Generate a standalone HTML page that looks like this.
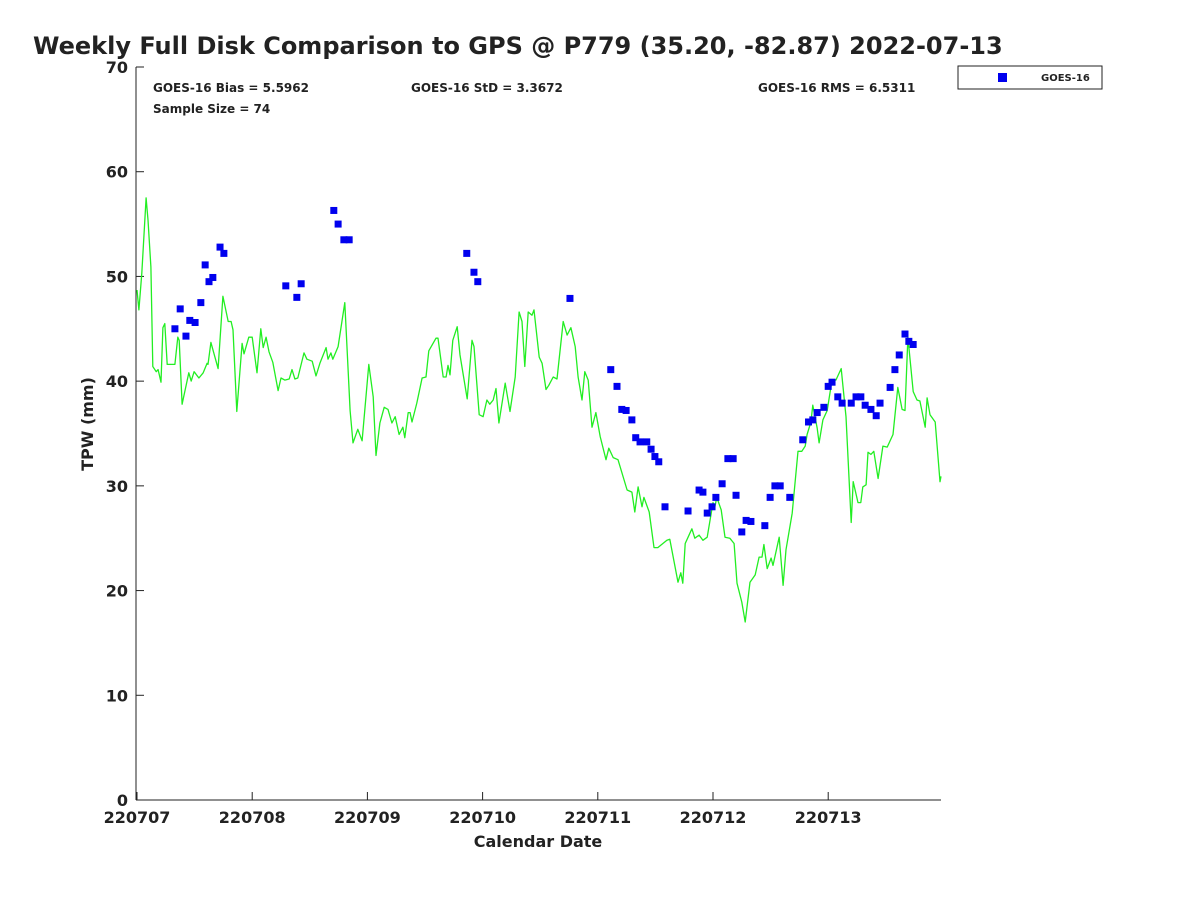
<!DOCTYPE html>
<html><head><meta charset="utf-8"><style>
body{margin:0;background:#fff;font-family:"Liberation Sans","DejaVu Sans",sans-serif;}
svg text{font-family:"DejaVu Sans","Liberation Sans",sans-serif;font-weight:bold;fill:#222;}
</style></head><body>
<svg id="chart" width="1200" height="900" xmlns="http://www.w3.org/2000/svg">
<rect width="1200" height="900" fill="#fff"/>
<text x="33" y="54" font-size="24" fill="#000">Weekly Full Disk Comparison to GPS @ P779 (35.20, -82.87) 2022-07-13</text>
<text x="153" y="92" font-size="12">GOES-16 Bias = 5.5962</text>
<text x="411" y="92" font-size="12">GOES-16 StD = 3.3672</text>
<text x="758" y="92" font-size="12">GOES-16 RMS = 6.5311</text>
<text x="153" y="113" font-size="12">Sample Size = 74</text>
<g>
<rect x="958" y="66" width="144" height="23" fill="#fff" stroke="#222" stroke-width="1"/>
<rect x="998" y="73" width="9" height="9" fill="#0000ee"/>
<text x="1041" y="81" font-size="10">GOES-16</text>
</g>
<g id="axes"></g>
<g id="marks"></g>
<text x="538" y="847" font-size="16" text-anchor="middle">Calendar Date</text>
<text transform="translate(93,424) rotate(-90)" font-size="16" text-anchor="middle">TPW (mm)</text>
</svg>
<script>
const xTickLabels=["220707","220708","220709","220710","220711","220712","220713"];
const yTicks=[0,10,20,30,40,50,60,70];
const lineHours=[0,0.4,1.0,1.9,2.3,2.9,3.3,4.0,4.4,5.0,5.4,5.8,6.3,7.9,8.5,8.8,9.4,10.8,11.3,11.9,12.9,13.8,14.6,14.8,15.4,16.9,17.9,19.0,19.6,20.0,20.8,21.9,22.3,23.3,24.0,25.0,25.8,26.3,26.9,27.5,28.3,29.4,30.0,30.8,31.7,32.3,32.9,33.5,34.8,35.4,36.5,37.3,38.1,39.4,39.8,40.4,40.8,41.9,43.3,44.4,45.0,46.0,46.9,48.3,49.2,49.8,50.6,51.5,52.3,53.1,53.8,54.6,55.4,55.8,56.5,56.9,57.3,58.3,59.4,60.2,60.8,62.3,62.7,63.8,64.4,64.8,65.2,65.8,66.7,67.3,68.8,69.8,70.2,71.3,72.1,72.9,73.5,74.2,74.8,75.4,76.7,77.7,78.8,79.6,80.2,80.8,81.5,82.3,82.7,83.8,84.4,85.2,85.8,86.7,87.5,88.8,89.6,90.4,91.3,91.9,92.7,93.3,94.0,94.8,95.6,96.5,97.7,98.3,99.2,100.2,102.1,103.1,103.7,104.4,105.2,105.6,106.7,107.7,108.5,110.4,111.0,112.7,113.3,113.7,114.2,115.6,116.2,117.1,117.9,118.8,120.0,120.4,120.8,121.7,122.5,123.5,124.4,125.0,126.0,126.7,127.7,128.8,129.6,130.2,130.6,131.3,132.1,132.5,133.8,134.6,135.2,136.5,137.7,138.5,139.2,139.6,140.4,140.8,141.7,142.1,142.9,143.8,144.8,145.6,146.7,147.7,148.8,149.2,150.2,150.8,151.2,151.9,152.3,152.9,153.5,154.4,155.4,156.3,157.5,158.5,159.4,160.0,160.6,161.7,162.5,163.1,164.2,164.6,165.2,166.3,167.3,167.5];
const gpsTPW=[48.7,46.8,50.3,57.5,55.4,50.9,41.4,40.9,41.1,39.9,45.1,45.5,41.6,41.6,44.2,43.9,37.8,40.8,40.0,40.9,40.3,40.8,41.7,41.6,43.7,41.2,48.1,45.7,45.7,44.9,37.1,43.6,42.6,44.2,44.2,40.8,45.0,43.2,44.2,42.8,41.8,39.1,40.3,40.1,40.2,41.1,40.2,40.3,42.7,42.1,41.9,40.5,41.7,43.2,42.1,42.7,42.1,43.3,47.5,37.2,34.1,35.4,34.3,41.6,38.5,32.9,36.0,37.5,37.3,36.0,36.6,34.9,35.6,34.6,37.0,37.0,36.1,37.9,40.3,40.4,42.9,44.1,44.1,40.4,40.4,41.5,40.6,43.9,45.2,42.5,38.3,43.9,43.3,36.8,36.6,38.2,37.8,38.2,39.3,36.0,39.8,37.1,40.4,46.6,45.7,41.4,46.6,46.3,46.8,42.3,41.7,39.2,39.6,40.4,40.2,45.7,44.4,45.1,43.3,40.4,38.2,40.9,40.1,35.6,37.0,34.7,32.5,33.6,32.7,32.5,29.6,29.4,27.5,29.9,28.0,28.9,27.5,24.1,24.1,24.8,24.9,20.8,21.7,20.7,24.5,25.9,25.0,25.3,24.8,25.1,28.4,28.0,28.9,27.7,25.1,25.0,24.5,20.7,18.9,17.0,20.8,21.5,23.2,23.2,24.4,22.1,23.1,22.4,25.1,20.5,23.9,27.4,33.3,33.3,33.8,34.9,36.1,37.7,35.5,34.1,36.3,37.2,40.1,40.1,41.2,36.6,26.5,30.4,28.4,28.4,29.9,30.1,33.2,33.0,33.3,30.7,33.8,33.7,34.9,39.4,37.3,37.2,44.2,39.0,38.2,38.1,35.6,38.4,36.8,36.1,30.4,30.9];
const goesHours=[7.9,9.0,10.2,11.0,12.1,13.3,14.2,15.0,15.8,17.3,18.1,31.0,33.3,34.2,41.0,41.9,43.1,44.2,68.7,70.2,71.0,90.2,98.7,100.0,101.0,101.9,103.1,103.9,104.8,106.2,107.1,107.9,108.7,110.0,114.8,117.1,117.9,118.8,119.8,120.6,121.9,123.1,124.2,124.8,126.0,126.9,127.9,130.8,131.9,132.9,134.0,136.0,138.7,139.9,140.8,141.7,143.1,144.0,144.8,146.0,146.9,148.8,149.8,150.8,151.7,152.9,154.0,154.8,156.9,157.9,158.8,160.0,160.8,161.7];
const goesTPW=[45.0,46.9,44.3,45.8,45.6,47.5,51.1,49.5,49.9,52.8,52.2,49.1,48.0,49.3,56.3,55.0,53.5,53.5,52.2,50.4,49.5,47.9,41.1,39.5,37.3,37.2,36.3,34.6,34.2,34.2,33.5,32.8,32.3,28.0,27.6,29.6,29.4,27.4,28.0,28.9,30.2,32.6,32.6,29.1,25.6,26.7,26.6,26.2,28.9,30.0,30.0,28.9,34.4,36.1,36.3,37.0,37.5,39.5,39.9,38.5,37.9,37.9,38.5,38.5,37.7,37.3,36.7,37.9,39.4,41.1,42.5,44.5,43.8,43.5];

const X0=137,PXDAY=115.2,Y0=800,YTOP=67,YMAX=70;
const xs=h=>X0+h/24*PXDAY;
const ys=v=>Y0-v/YMAX*(Y0-YTOP);
const NS="http://www.w3.org/2000/svg";
function mk(tag,attrs,parent){const e=document.createElementNS(NS,tag);for(const k in attrs)e.setAttribute(k,attrs[k]);parent.appendChild(e);return e;}
const axes=document.getElementById('axes'),marks=document.getElementById('marks');
let a=mk('line',{x1:136,y1:YTOP,x2:136,y2:Y0,stroke:'#222','stroke-width':1},axes);


a=mk('line',{x1:136,y1:Y0,x2:941,y2:Y0,stroke:'#222','stroke-width':1},axes);


yTicks.forEach(v=>{
  const t=mk('line',{x1:136,y1:ys(v),x2:144,y2:ys(v),stroke:'#222'},axes);
  
  
  const l=mk('text',{x:128,y:ys(v)+6,'font-size':16,'text-anchor':'end'},axes);
  l.textContent=v;
  
  
});
xTickLabels.forEach((s,i)=>{
  const x=xs(i*24);
  const t=mk('line',{x1:x,y1:Y0,x2:x,y2:Y0-8,stroke:'#222'},axes);
  
  
  const l=mk('text',{x:x,y:823,'font-size':16,'text-anchor':'middle'},axes);
  l.textContent=s;
  
  
});
const n=Math.min(lineHours.length,gpsTPW.length);
let d='';
for(let i=0;i<n;i++)d+=(i?'L':'M')+xs(lineHours[i]).toFixed(1)+','+ys(gpsTPW[i]).toFixed(1);
const p=mk('path',{d:d,fill:'none',stroke:'#22ee22','stroke-width':1.3,'stroke-linejoin':'round'},marks);


const m=Math.min(goesHours.length,goesTPW.length);
for(let i=0;i<m;i++){
  const r=mk('rect',{x:xs(goesHours[i])-3.5,y:ys(goesTPW[i])-3.5,width:7,height:7,fill:'#0000ee'},marks);
  
  
}
</script>
</body></html>
